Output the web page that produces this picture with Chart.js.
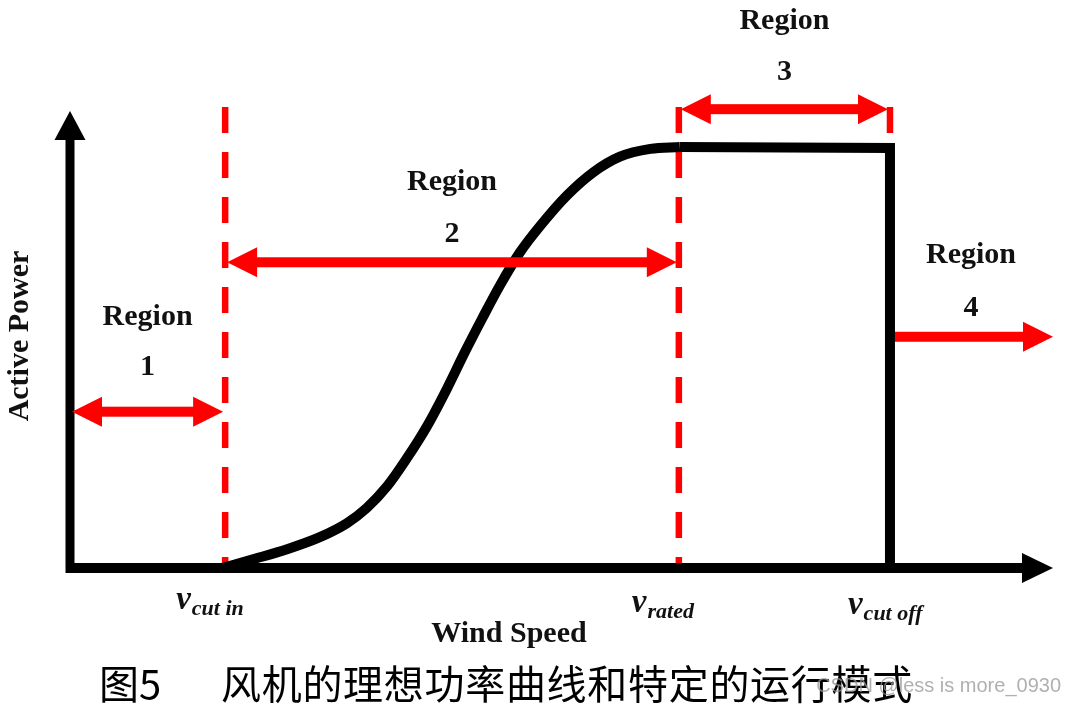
<!DOCTYPE html>
<html>
<head>
<meta charset="utf-8">
<script src="https://cdn.jsdelivr.net/npm/chart.js@4.4.1/dist/chart.umd.min.js"></script>
<style>
html,body{margin:0;padding:0;background:#fff;}
#wrap{width:1066px;height:704px;}
</style>
</head>
<body>
<div id="wrap"><canvas id="c" width="1066" height="704"></canvas></div>
<script>
// ---- data (arbitrary normalised units: wind speed 0..100, power 0..100) ----
const windSpeed   = [15.5, 18.8, 22.1, 25.5, 28.2, 30.2, 32.3, 34.3, 36.4, 38.4, 40.2, 42.0, 43.8, 45.8, 47.9, 50.6, 53.3, 56.0, 59.1, 62.1, 83.5, 83.5];
const activePower = [0,    2.0,  4.1,  6.8,  9.8,  13.1, 17.9, 24.0, 31.2, 39.3, 47.2, 54.7, 61.9, 69.0, 74.9, 81.5, 86.6, 90.0, 91.7, 92.1, 91.9, 0];
const ratedIndex = 19;              // index where the plateau starts
const speedMarks = [15.8, 62.0, 83.5];            // cut in, rated, cut off
const speedMarkNames = ['cut in', 'rated', 'cut off'];
const dashTop = 100.9;
const regionNames = ['1', '2', '3', '4'];
const regionFrom  = [0, 15.8, 62.0, 83.5];
const regionTo    = [15.8, 62.0, 83.5, 100];
const regionLevel = [34.2, 66.9, 100.4, 50.6];
const regionDouble = [true, true, true, false];
const xTitle = 'Wind Speed';
const yTitle = 'Active Power';
const caption1 = '图5';
const caption2 = '风机的理想功率曲线和特定的运行模式';
const watermark = 'CSDN @less is more_0930';

// ---- datasets (first in list = drawn on top) ----
const RED = '#ff0000';
const datasets = [];
const curvePts = [], tailPts = [];
windSpeed.forEach((x, i) => {
  if (i <= ratedIndex) curvePts.push({x, y: activePower[i]});
  if (i >= ratedIndex) tailPts.push({x, y: activePower[i]});
});
datasets.push({data: curvePts, borderColor: '#000', borderWidth: 10, cubicInterpolationMode: 'monotone',
  borderCapStyle: 'butt', borderJoinStyle: 'round', pointRadius: 0, clip: false});
datasets.push({data: tailPts, borderColor: '#000', borderWidth: 10, tension: 0,
  borderCapStyle: 'butt', borderJoinStyle: 'miter', pointRadius: 0, clip: false});
speedMarks.forEach(v => {
  datasets.push({
    data: [{x: v, y: dashTop}, {x: v, y: 0}],
    borderColor: RED, borderWidth: 6.5, borderDash: [26, 19], borderCapStyle: 'butt',
    pointRadius: 0, tension: 0, clip: false
  });
});

function hArrow(ctx, x1, x2, y, dbl, color, head, half, shaft) {
  ctx.fillStyle = color;
  const s = dbl ? x1 + head - 1 : x1;
  ctx.fillRect(s, y - shaft / 2, (x2 - head + 1) - s, shaft);
  ctx.beginPath(); ctx.moveTo(x2, y); ctx.lineTo(x2 - head, y - half); ctx.lineTo(x2 - head, y + half); ctx.closePath(); ctx.fill();
  if (dbl) {
    ctx.beginPath(); ctx.moveTo(x1, y); ctx.lineTo(x1 + head, y - half); ctx.lineTo(x1 + head, y + half); ctx.closePath(); ctx.fill();
  }
}

// label layout (pixel offsets relative to the arrow level)
const regionTitleDy = [-87, -72, -80, -74];
const regionNumDy   = [-44, -28, -37, -29];
const markLabelDx = [-49, -47, -42];
const markLabelDy = [-2, 1, 3];

const decor = {
  id: 'decor',
  afterDatasetsDraw(chart) {
    const ctx = chart.ctx, xs = chart.scales.x, ys = chart.scales.y;
    const x0 = xs.getPixelForValue(0), y0 = ys.getPixelForValue(0);
    const xEnd = xs.getPixelForValue(100), yEnd = ys.getPixelForValue(100);
    ctx.save();
    // axes
    ctx.fillStyle = '#000';
    ctx.fillRect(x0 - 4.5, yEnd + 28, 9, y0 + 5 - (yEnd + 28));
    ctx.beginPath(); ctx.moveTo(x0, yEnd); ctx.lineTo(x0 - 15.5, yEnd + 29); ctx.lineTo(x0 + 15.5, yEnd + 29); ctx.closePath(); ctx.fill();
    ctx.fillRect(x0 - 4, y0 - 5, xEnd - 30 - (x0 - 4) + 1, 10);
    ctx.beginPath(); ctx.moveTo(xEnd + 1, y0); ctx.lineTo(xEnd - 30, y0 - 15); ctx.lineTo(xEnd - 30, y0 + 15); ctx.closePath(); ctx.fill();

    // region arrows + labels
    ctx.textAlign = 'center';
    regionNames.forEach((nm, i) => {
      const a = xs.getPixelForValue(regionFrom[i]) + (i === 3 ? 5 : 2);
      const b = xs.getPixelForValue(regionTo[i]) - (i === 3 ? -1 : 2);
      const y = ys.getPixelForValue(regionLevel[i]);
      hArrow(ctx, a, b, y, regionDouble[i], RED, 30, 15, 10);
      const cx = (xs.getPixelForValue(regionFrom[i]) + xs.getPixelForValue(regionTo[i])) / 2;
      ctx.fillStyle = '#111';
      ctx.font = 'bold 30px "Liberation Serif"';
      ctx.textBaseline = 'alphabetic';
      ctx.fillText('Region', cx, y + regionTitleDy[i]);
      ctx.textBaseline = 'middle';
      ctx.fillText(nm, cx, y + regionNumDy[i]);
    });

    // v labels
    ctx.textAlign = 'left'; ctx.textBaseline = 'alphabetic';
    speedMarks.forEach((v, i) => {
      const px = xs.getPixelForValue(v) + markLabelDx[i];
      const by = 611 + markLabelDy[i];
      ctx.fillStyle = '#111';
      ctx.font = 'bold italic 33px "Liberation Serif"';
      ctx.fillText('v', px, by);
      const w = ctx.measureText('v').width;
      ctx.font = 'bold italic 22px "Liberation Serif"';
      ctx.fillText(speedMarkNames[i], px + w + 1, by + 6);
    });

    // axis titles
    ctx.fillStyle = '#111';
    ctx.font = 'bold 30px "Liberation Serif"';
    ctx.textAlign = 'center'; ctx.textBaseline = 'alphabetic';
    ctx.fillText(xTitle, (x0 + xEnd) / 2 - 52, 642);
    ctx.save();
    ctx.translate(28, 336); ctx.rotate(-Math.PI / 2);
    ctx.fillText(yTitle, 0, 0);
    ctx.restore();

    // caption
    ctx.fillStyle = '#000';
    ctx.textAlign = 'left'; ctx.textBaseline = 'middle';
    ctx.font = '40px "Noto Sans CJK SC"';
    ctx.fillText(caption1, 99, 684);
    ctx.letterSpacing = '0.7px';
    ctx.fillText(caption2, 221, 684);
    ctx.letterSpacing = '0px';
    // watermark
    ctx.font = '20px "Liberation Sans"';
    ctx.fillStyle = 'rgba(150,150,150,0.75)';
    ctx.textAlign = 'right'; ctx.textBaseline = 'alphabetic';
    ctx.fillText(watermark, 1061, 692);
    ctx.restore();
  }
};

new Chart(document.getElementById('c'), {
  type: 'line',
  data: {datasets},
  options: {
    responsive: false, animation: false,
    layout: {padding: {left: 70, right: 14, top: 111, bottom: 136}},
    scales: {
      x: {type: 'linear', min: 0, max: 100, display: false},
      y: {type: 'linear', min: 0, max: 100, display: false}
    },
    plugins: {legend: {display: false}, tooltip: {enabled: false}, title: {display: false}},
    elements: {point: {radius: 0}}
  },
  plugins: [decor]
});
</script>
</body>
</html>
